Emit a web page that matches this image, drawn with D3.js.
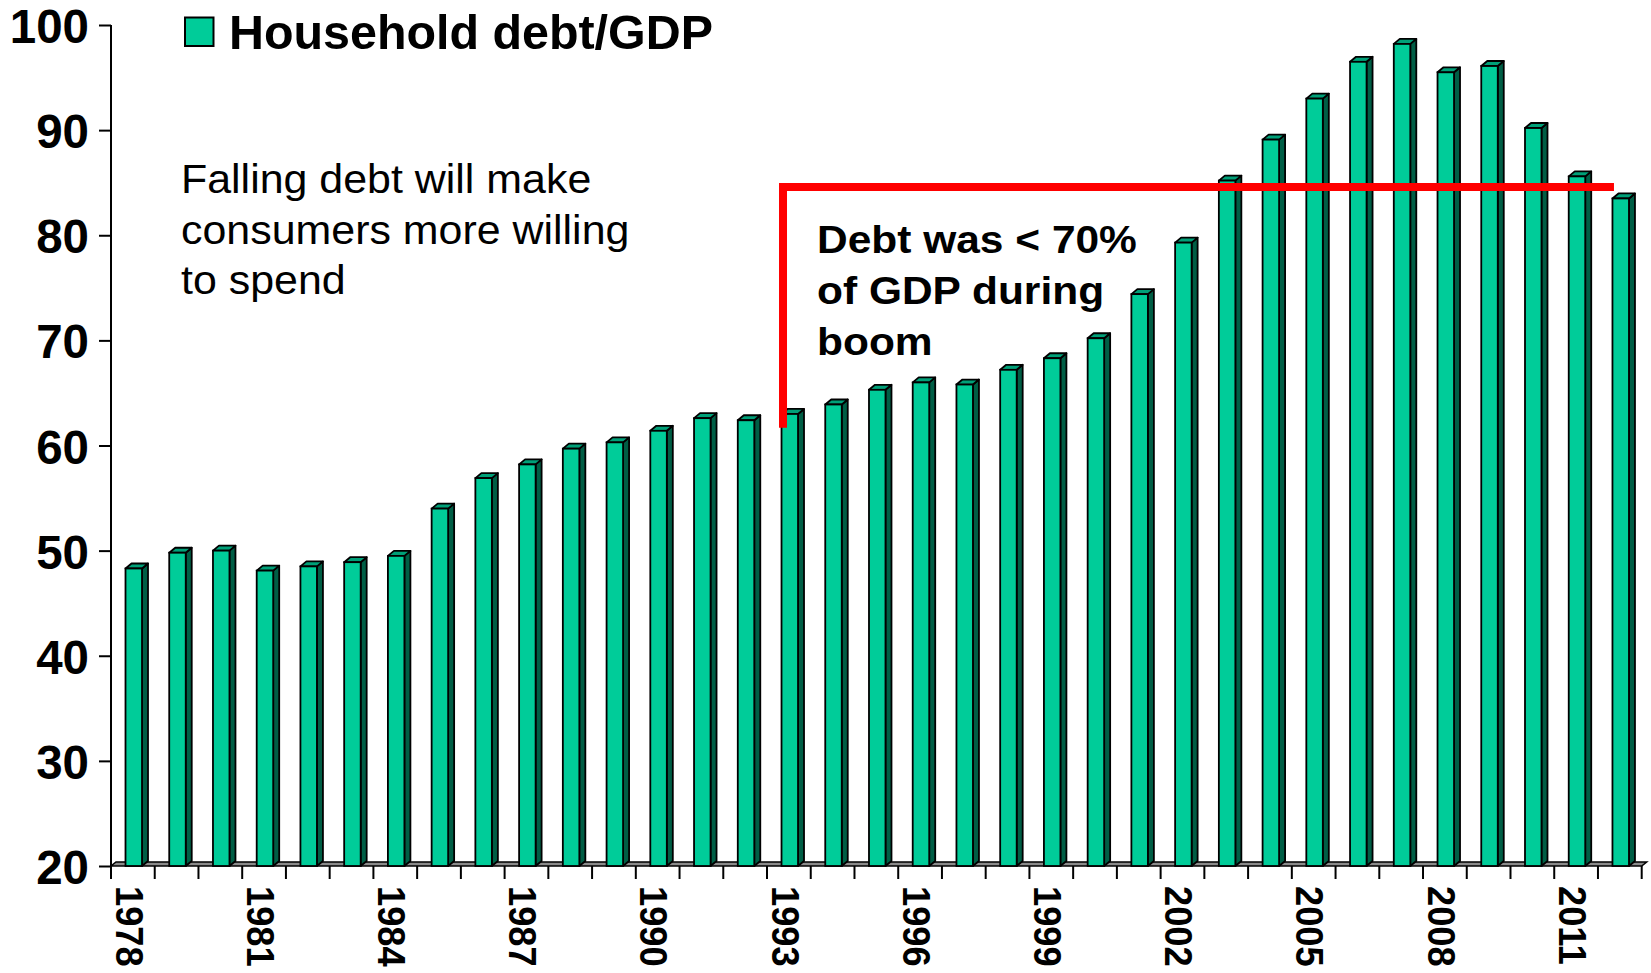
<!DOCTYPE html>
<html>
<head>
<meta charset="utf-8">
<script src="https://cdn.jsdelivr.net/npm/d3@7"></script>
<style>
  html, body { margin: 0; padding: 0; background: #ffffff; }
  svg { display: block; }
  text { font-family: "Liberation Sans", Arial, sans-serif; fill: #000; }
</style>
</head>
<body>
<svg id="chart" width="1651" height="973"></svg>
<script>
// ---- data ----
const years = ["1978","1979","1980","1981","1982","1983","1984","1985","1986","1987",
  "1988","1989","1990","1991","1992","1993","1994","1995","1996","1997",
  "1998","1999","2000","2001","2002","2003","2004","2005","2006","2007",
  "2008","2009","2010","2011","2012"];
const debtToGdp = [48.3, 49.8, 50.0, 48.1, 48.5, 48.9, 49.5, 54.0, 56.9, 58.2,
  59.7, 60.3, 61.4, 62.6, 62.4, 63.0, 63.9, 65.3, 66.0, 65.8,
  67.2, 68.3, 70.2, 74.4, 79.3, 85.2, 89.1, 93.0, 96.5, 98.2,
  95.5, 96.1, 90.2, 85.6, 83.5];
const yTicks = [20, 30, 40, 50, 60, 70, 80, 90, 100];
const xLabelYears = ["1978","1981","1984","1987","1990","1993","1996","1999","2002","2005","2008","2011"];
const seriesName = "Household debt/GDP";
const noteLines = ["Falling debt will make", "consumers more willing", "to spend"];
const boomLines = ["Debt was < 70%", "of GDP during", "boom"];
const boomLine = { fromYear: "1993", toYear: "2012", top: 84.6, bottom: 61.7 };

(function () {
// ---- layout ----
const svg = d3.select("#chart");
const pL = 111, pR = 1641.7, pT = 25, pB = 866;
const x = d3.scaleBand().domain(years).range([pL, pR]).padding(0);
const y = d3.scaleLinear().domain([20, 100]).range([pB, pT]);
const frontOff = 14.5, frontW = 16.5, dx = 6, dy = 5;
const colFront = "#00CC99", colTop = "#00A078", colSide = "#005E45";

// floor
const fdx = 5, fdy = 4;
svg.append("path")
  .attr("d", `M${pL},${pB} L${pR},${pB} L${pR+fdx},${pB-fdy} L${pL+fdx},${pB-fdy} Z`)
  .attr("fill", "#8a8a8a").attr("stroke", "#000").attr("stroke-width", 1.5);

// y axis
const yAxis = d3.axisLeft(y).tickValues(yTicks).tickSize(12).tickPadding(10).tickFormat(d3.format("d"));
const gy = svg.append("g").attr("transform", `translate(${pL},0)`).call(yAxis);
gy.select(".domain").attr("stroke", "#000").attr("stroke-width", 2).attr("d", `M0,${pT}V${pB}`);
gy.selectAll(".tick line").attr("stroke", "#000").attr("stroke-width", 2);
gy.selectAll(".tick text")
  .attr("x", -22).attr("dy", null).attr("y", 17.5)
  .style("font-size", "47.5px").style("font-weight", "bold")
  .style("font-family", '"Liberation Sans", Arial, sans-serif').attr("fill", "#000");

// x ticks at band boundaries
const boundaries = years.map(yr => x(yr)).concat([pR]);
svg.append("g").selectAll("line").data(boundaries).join("line")
  .attr("x1", d => d).attr("x2", d => d)
  .attr("y1", pB).attr("y2", pB + 13)
  .attr("stroke", "#000").attr("stroke-width", 2);

// bars (3D)
const bars = svg.append("g").selectAll("g").data(years.map((yr, i) => ({yr, v: debtToGdp[i]}))).join("g");
bars.append("path") // side
  .attr("d", d => {
    const x1 = x(d.yr) + frontOff + frontW, yt = y(d.v);
    return `M${x1},${yt} L${x1+dx},${yt-dy} L${x1+dx},${pB-dy} L${x1},${pB} Z`;
  })
  .attr("fill", colSide).attr("stroke", "#000").attr("stroke-width", 1.8).attr("stroke-linejoin", "round");
bars.append("path") // top
  .attr("d", d => {
    const x0 = x(d.yr) + frontOff, x1 = x0 + frontW, yt = y(d.v);
    return `M${x0},${yt} L${x0+dx},${yt-dy} L${x1+dx},${yt-dy} L${x1},${yt} Z`;
  })
  .attr("fill", colTop).attr("stroke", "#000").attr("stroke-width", 1.8).attr("stroke-linejoin", "round");
bars.append("rect") // front
  .attr("x", d => x(d.yr) + frontOff)
  .attr("y", d => y(d.v))
  .attr("width", frontW)
  .attr("height", d => pB - y(d.v))
  .attr("fill", colFront).attr("stroke", "#000").attr("stroke-width", 1.8);

// x labels (rotated)
svg.append("g").selectAll("text").data(xLabelYears).join("text")
  .attr("transform", d => `translate(${x(d) + 4.5},886) rotate(90) scale(0.93,1)`)
  .attr("x", 0).attr("y", 0)
  .style("font-size", "39px").style("font-weight", "bold")
  .text(d => d);

// red annotation line
const rx0 = x(boomLine.fromYear) + 16, rx1 = x(boomLine.toYear) + 16;
svg.append("path")
  .attr("d", `M${rx0},${y(boomLine.bottom)} V${y(boomLine.top)} H${rx1}`)
  .attr("fill", "none").attr("stroke", "#FF0000").attr("stroke-width", 8).attr("stroke-linejoin", "miter");

// legend
svg.append("rect").attr("x", 185).attr("y", 17.5).attr("width", 28.5).attr("height", 28.5)
  .attr("fill", colFront).attr("stroke", "#000").attr("stroke-width", 2);
svg.append("text").attr("x", 229).attr("y", 49)
  .style("font-size", "48.4px").style("font-weight", "bold").text(seriesName);

// notes
const note = svg.append("g").attr("transform", "translate(181,0) scale(1.06,1)");
note.selectAll("text").data(noteLines).join("text")
  .attr("x", 0).attr("y", (d, i) => 193.5 + i * 50.5)
  .style("font-size", "40.5px").text(d => d);

const boom = svg.append("g").attr("transform", "translate(817,0) scale(1.07,1)");
boom.selectAll("text").data(boomLines).join("text")
  .attr("x", 0).attr("y", (d, i) => 253.3 + i * 51)
  .style("font-size", "39.7px").style("font-weight", "bold").text(d => d);
})();
</script>
</body>
</html>
